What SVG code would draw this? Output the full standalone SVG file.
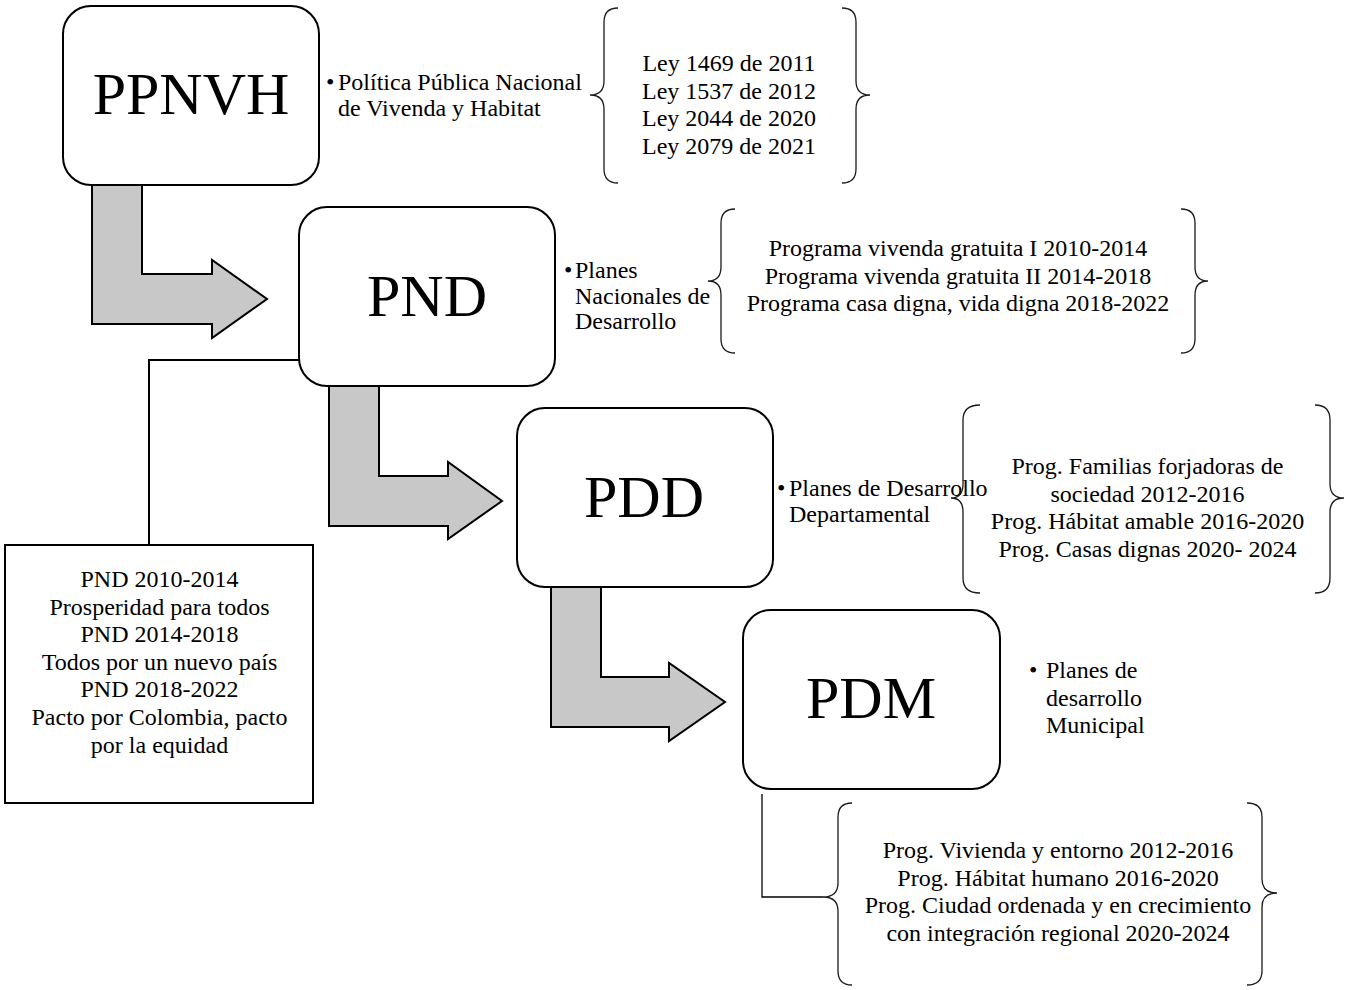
<svg xmlns="http://www.w3.org/2000/svg" width="1345" height="990" viewBox="0 0 1345 990">
<style>
.box{fill:#fff;stroke:#000;stroke-width:2}
.arr{fill:#c8c8c8;stroke:#000;stroke-width:2;stroke-linejoin:miter}
.br{fill:none;stroke:#1a1a1a;stroke-width:1.3}
.ln{fill:none;stroke:#000;stroke-width:2}
.ln2{fill:none;stroke:#000;stroke-width:1.3}
.big{font-family:"Liberation Serif","Times New Roman",serif;font-size:60px;fill:#000;text-anchor:middle}
.t{font-family:"Liberation Serif","Times New Roman",serif;font-size:24px;fill:#000}
.c{text-anchor:middle}
</style>
<rect width="1345" height="990" fill="#fff"/>
<g id="connectors">
<path class="arr" d="M92,180 L142,180 L142,274 L212,274 L212,260 L267,299 L212,338 L212,324 L92,324 Z"/>
<path class="arr" d="M329,380 L379,380 L379,476 L448,476 L448,462 L502,501 L448,539 L448,526 L329,526 Z"/>
<path class="arr" d="M551,582 L601,582 L601,677 L669,677 L669,663 L725,702 L669,741 L669,727 L551,727 Z"/>
<path class="ln" d="M300,360 L149,360 L149,545"/>
<path class="ln2" d="M762,794 L762,897 L823,897"/>
</g>
<g id="ppnvh">
<rect class="box" x="63" y="6" width="256" height="179" rx="28"/>
<text class="big" x="191" y="114">PPNVH</text>
<text class="t" x="326" y="90">•</text>
<text class="t" x="338" y="90">Política Pública Nacional<tspan x="338" dy="25.5">de Vivenda y Habitat</tspan></text>
</g>
<g id="leyes">
<path class="br" d="M618,8 Q604,8 604,22 L604,81 Q604,95 590,95 Q604,95 604,109 L604,169 Q604,183 618,183"/>
<path class="br" d="M842,8 Q856,8 856,22 L856,81 Q856,95 870,95 Q856,95 856,109 L856,169 Q856,183 842,183"/>
<text class="t c" x="729" y="71">Ley 1469 de 2011<tspan x="729" dy="27.6">Ley 1537 de 2012</tspan><tspan x="729" dy="27.6">Ley 2044 de 2020</tspan><tspan x="729" dy="27.6">Ley 2079 de 2021</tspan></text>
</g>
<g id="pnd">
<rect class="box" x="299" y="207" width="256" height="179" rx="28"/>
<text class="big" x="427" y="316">PND</text>
<text class="t" x="564" y="278">•</text>
<text class="t" x="575" y="278">Planes<tspan x="575" dy="25.5">Nacionales de</tspan><tspan x="575" dy="25.5">Desarrollo</tspan></text>
</g>
<g id="programas-pnd">
<path class="br" d="M735,209 Q721,209 721,223 L721,267 Q721,281 708,281 Q721,281 721,295 L721,339 Q721,353 735,353"/>
<path class="br" d="M1181,209 Q1195,209 1195,223 L1195,267 Q1195,281 1208,281 Q1195,281 1195,295 L1195,339 Q1195,353 1181,353"/>
<text class="t c" x="958" y="256">Programa vivenda gratuita I 2010-2014<tspan x="958" dy="27.6">Programa vivenda gratuita II 2014-2018</tspan><tspan x="958" dy="27.6">Programa casa digna, vida digna 2018-2022</tspan></text>
</g>
<g id="pnd-lista">
<rect x="5" y="545" width="308" height="258" fill="#fff" stroke="#000" stroke-width="2"/>
<text class="t c" x="159.5" y="587">PND 2010-2014<tspan x="159.5" dy="27.6">Prosperidad para todos</tspan><tspan x="159.5" dy="27.6">PND 2014-2018</tspan><tspan x="159.5" dy="27.6">Todos por un nuevo país</tspan><tspan x="159.5" dy="27.6">PND 2018-2022</tspan><tspan x="159.5" dy="27.6">Pacto por Colombia, pacto</tspan><tspan x="159.5" dy="27.6">por la equidad</tspan></text>
</g>
<g id="pdd">
<rect class="box" x="517" y="408" width="256" height="179" rx="28"/>
<text class="big" x="644" y="517">PDD</text>
<text class="t" x="777" y="496">•</text>
<text class="t" x="789" y="496">Planes de Desarrollo<tspan x="789" dy="25.5">Departamental</tspan></text>
</g>
<g id="programas-pdd">
<path class="br" d="M980,405 Q963,405 963,420 L963,484 Q963,498 951,498 Q963,498 963,512 L963,578 Q963,593 980,593"/>
<path class="br" d="M1315,405 Q1330,405 1330,420 L1330,484 Q1330,498 1344,498 Q1330,498 1330,512 L1330,578 Q1330,593 1315,593"/>
<text class="t c" x="1147.5" y="474">Prog. Familias forjadoras de<tspan x="1147.5" dy="27.6">sociedad 2012-2016</tspan><tspan x="1147.5" dy="27.6">Prog. Hábitat amable 2016-2020</tspan><tspan x="1147.5" dy="27.6">Prog. Casas dignas 2020- 2024</tspan></text>
</g>
<g id="pdm">
<rect class="box" x="743" y="610" width="257" height="179" rx="28"/>
<text class="big" x="871" y="718">PDM</text>
<text class="t" x="1029" y="678">•</text>
<text class="t" x="1046" y="678">Planes de<tspan x="1046" dy="27.6">desarrollo</tspan><tspan x="1046" dy="27.6">Municipal</tspan></text>
</g>
<g id="programas-pdm">
<path class="br" d="M852,803 Q838,803 838,817 L838,883 Q838,897 823,897 Q838,897 838,911 L838,971 Q838,985 852,985"/>
<path class="br" d="M1247,803 Q1262,803 1262,817 L1262,879 Q1262,893 1277,893 Q1262,893 1262,907 L1262,971 Q1262,985 1247,985"/>
<text class="t c" x="1058" y="858">Prog. Vivienda y entorno 2012-2016<tspan x="1058" dy="27.6">Prog. Hábitat humano 2016-2020</tspan><tspan x="1058" dy="27.6">Prog. Ciudad ordenada y en crecimiento</tspan><tspan x="1058" dy="27.6">con integración regional 2020-2024</tspan></text>
</g>
</svg>
